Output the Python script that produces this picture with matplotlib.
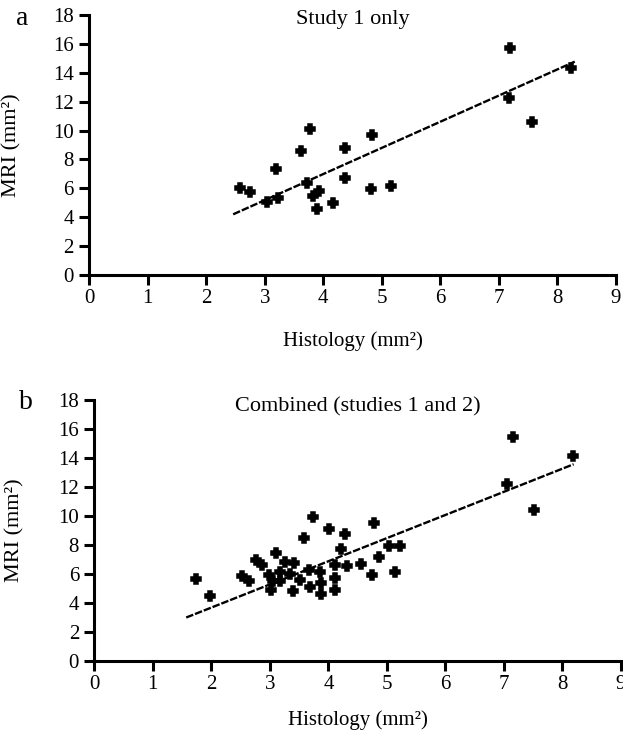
import matplotlib
matplotlib.use('Agg')
import matplotlib.pyplot as plt
import numpy as np

# panel a: study 1 only
hist_a = [7.20, 8.24, 7.17, 7.57, 3.78, 4.84, 3.62, 4.37, 3.20, 4.37, 3.73,
          2.57, 2.74, 3.03, 3.23, 3.93, 3.83, 3.89, 4.16, 4.82, 5.16]
mri_a = [15.69, 14.31, 12.23, 10.62, 10.08, 9.69, 8.58, 8.77, 7.32, 6.74, 6.35,
         6.00, 5.72, 5.03, 5.35, 5.84, 5.47, 4.55, 5.01, 5.93, 6.16]
fit_a_x = [2.46, 8.30]
fit_a_y = [4.20, 14.77]

# panel b: combined studies 1 and 2
hist_b = [1.73, 1.98, 7.16, 8.18, 7.06, 7.52, 3.73, 4.01, 4.78, 4.29, 3.59,
          4.21, 5.03, 5.22, 4.87, 4.55, 4.31, 4.11, 4.74, 5.13, 4.11, 4.11,
          3.88, 3.10, 2.77, 2.87, 2.53, 2.64, 3.26, 3.42, 2.98, 3.02, 3.17,
          3.39, 3.52, 3.67, 3.85, 3.69, 3.88, 3.35, 3.05, 3.17]
mri_b = [5.65, 4.50, 15.42, 14.12, 12.19, 10.39, 9.92, 9.12, 9.51, 8.77, 8.47,
         7.73, 7.92, 7.92, 7.15, 6.69, 6.53, 6.65, 5.93, 6.16, 5.72, 4.89,
         4.62, 7.43, 6.97, 6.62, 5.88, 5.54, 6.81, 6.74, 5.95, 4.89, 5.54,
         4.85, 5.58, 6.28, 6.12, 5.08, 5.35, 6.00, 5.54, 6.12]
fit_b_x = [1.57, 8.19]
fit_b_y = [3.00, 13.57]

plt.rcParams['font.family'] = ['Liberation Serif', 'DejaVu Serif']

fig = plt.figure(figsize=(6.23, 7.38), dpi=100)
ax_a = fig.add_axes([0.1433, 0.6274, 0.845, 0.3523])
ax_b = fig.add_axes([0.1514, 0.1043, 0.8454, 0.3537])

panels = [
    (ax_a, hist_a, mri_a, fit_a_x, fit_a_y, 'Study 1 only', 0.983, -0.128, -0.215),
    (ax_b, hist_b, mri_b, fit_b_x, fit_b_y, 'Combined (studies 1 and 2)', 0.975, -0.132, -0.19),
]

for ax, x, y, fx, fy, title, ty, ylx, xly in panels:
    ax.plot(fx, fy, color='black', lw=1.7, dashes=(3.2, 0.8), zorder=2)
    ax.plot(x, y, 'P', color='black', markersize=7, markeredgewidth=1.1,
            markeredgecolor='black', zorder=3)
    ax.set_xlim(0, 9)
    ax.set_ylim(0, 18)
    ax.set_xticks(range(0, 10))
    ax.set_yticks(range(0, 19, 2))
    for s in ['top', 'right']:
        ax.spines[s].set_visible(False)
    for s in ['left', 'bottom']:
        ax.spines[s].set_linewidth(2.2)
    ax.tick_params(direction='out', length=7, width=2.2, labelsize=15, pad=3)
    ax.tick_params(axis='y', pad=4)
    ax.text(0.5, ty, title, transform=ax.transAxes, ha='center', va='center', fontsize=16)
    ax.set_xlabel('Histology (mm²)', fontsize=15)
    ax.set_ylabel('MRI (mm²)', fontsize=16)
    ax.yaxis.set_label_coords(ylx, 0.5)
    ax.xaxis.set_label_coords(0.5, xly)

fig.text(0.025, 0.975, 'a', fontsize=20, ha='left', va='center')
fig.text(0.03, 0.455, 'b', fontsize=20, ha='left', va='center')

fig.savefig('out.png', dpi=100)
